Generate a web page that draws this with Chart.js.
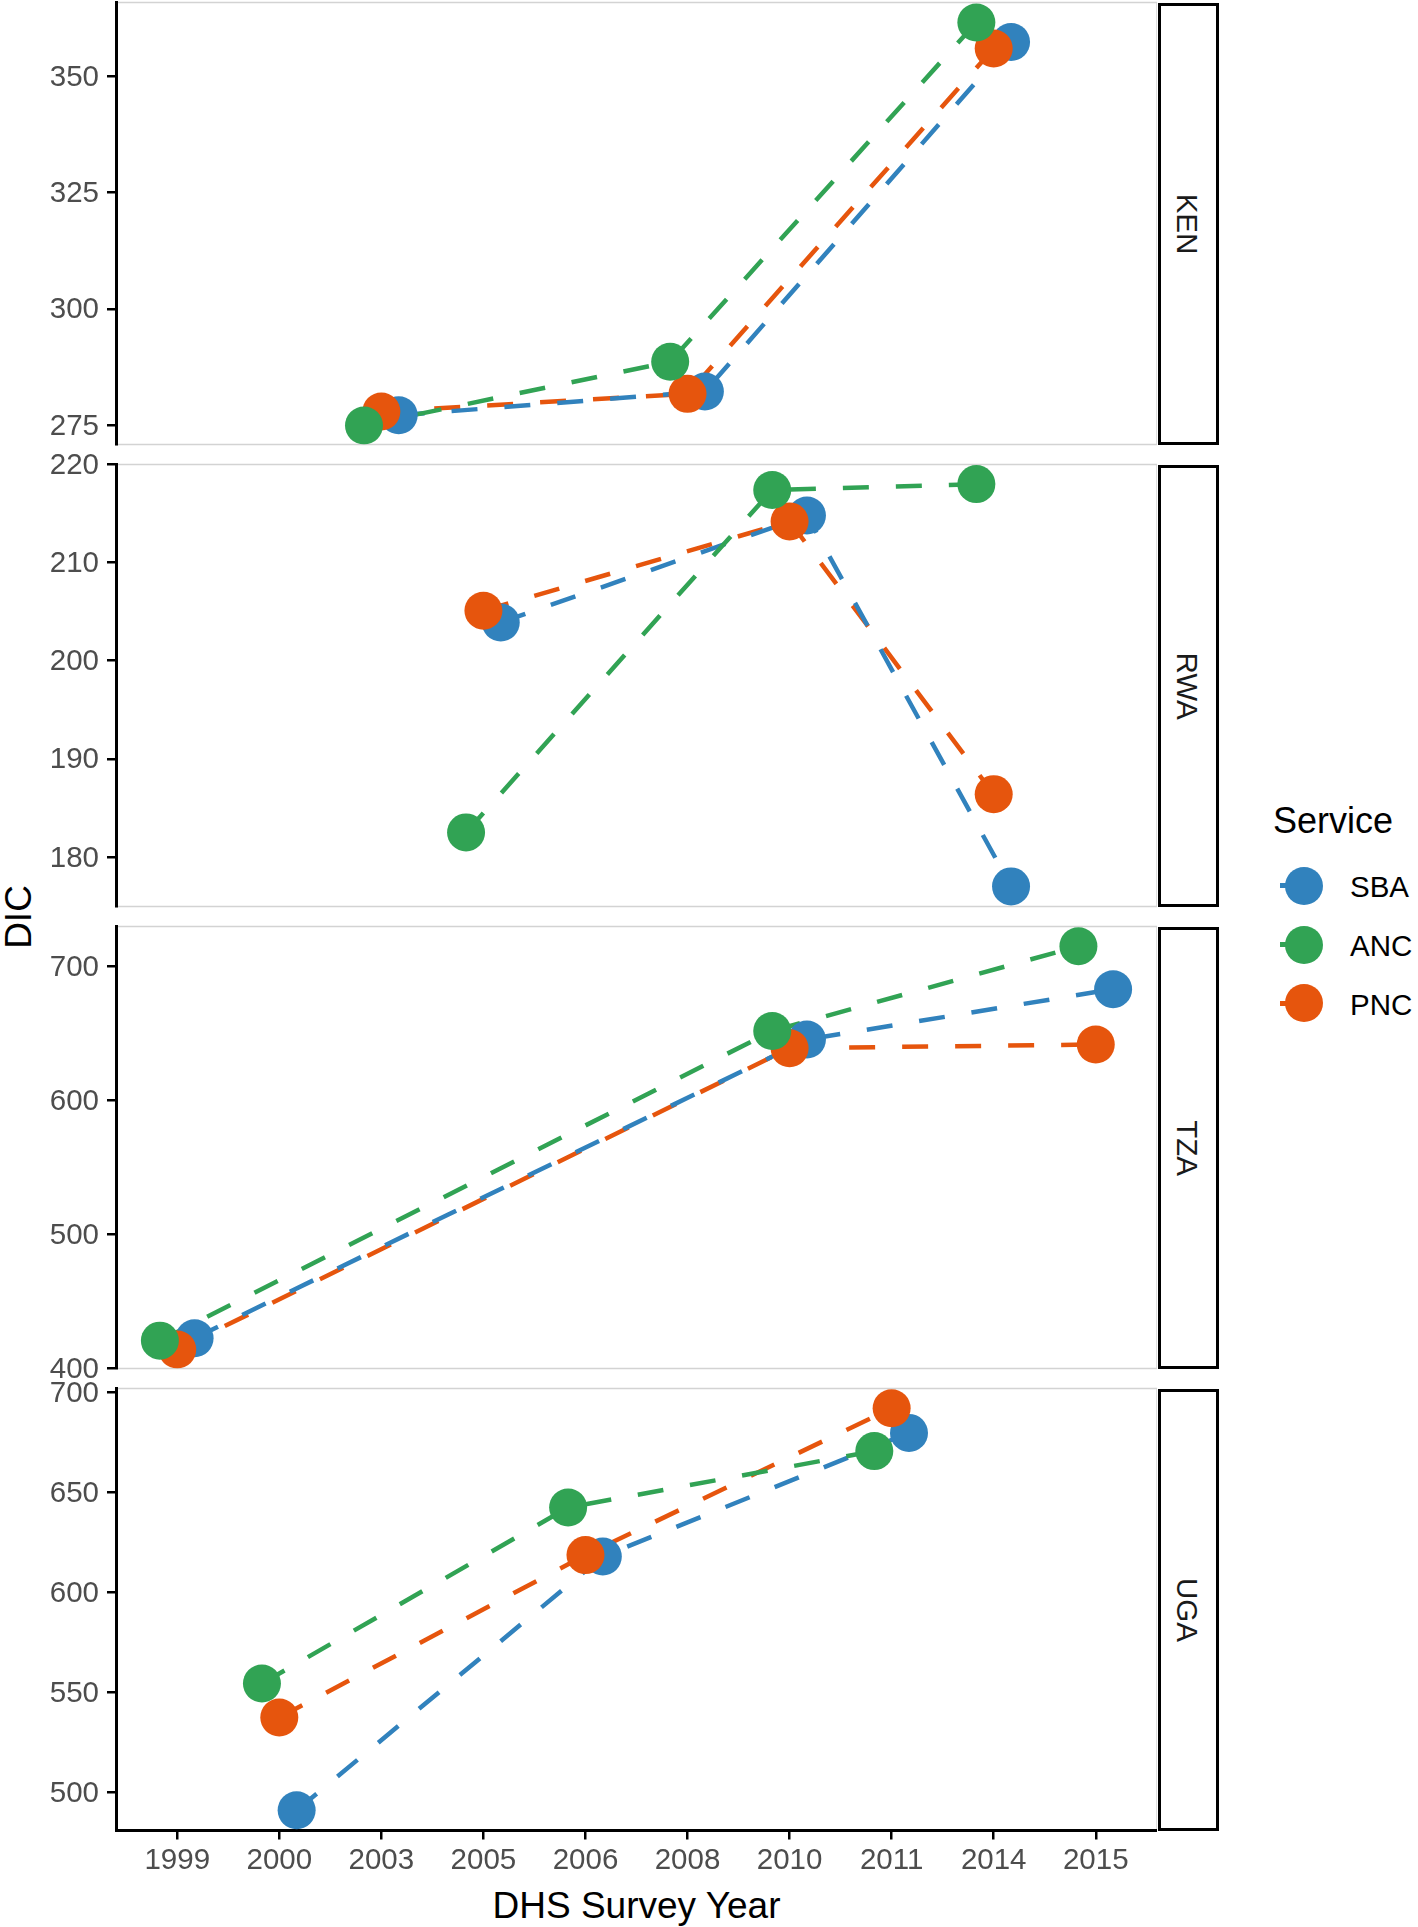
<!DOCTYPE html>
<html>
<head>
<meta charset="utf-8">
<script src="https://cdn.jsdelivr.net/npm/chart.js@4.4.1/dist/chart.umd.min.js"></script>
<style>
html,body{margin:0;padding:0;background:#fff;}
body{width:1418px;height:1927px;position:relative;overflow:hidden;font-family:'Liberation Sans',Arial,sans-serif;}
canvas{position:absolute;left:0;}
.strip{position:absolute;left:1158px;width:61px;box-sizing:border-box;border:3px solid #000;background:#fff;}
.strip span{position:absolute;left:50%;top:50%;transform:translate(-50%,-50%) translateX(-2px) rotate(90deg);font-size:29.5px;line-height:30px;color:#1a1a1a;white-space:nowrap;}
.txt{position:absolute;white-space:nowrap;color:#000;}
.ytitle{left:18px;top:916.5px;font-size:37px;line-height:37px;transform:translate(-50%,-50%) rotate(-90deg);}
.xtitle{left:636.5px;top:1887px;font-size:37px;line-height:37px;transform:translateX(-50%);}
.ltitle{left:1273px;top:803px;font-size:36px;line-height:36px;}
.lkey{position:absolute;width:38px;height:38px;border-radius:50%;}
.lstub{position:absolute;height:4.5px;}
.llab{position:absolute;font-size:29.5px;line-height:30px;color:#000;white-space:nowrap;}
</style>
</head>
<body>
<div class="txt ytitle">DIC</div>
<div class="txt xtitle">DHS Survey Year</div>
<div class="txt ltitle">Service</div>
<script>
// ---- data ----
const years = ['1999','2000','2003','2005','2006','2008','2010','2011','2014','2015'];
const services = ['SBA','ANC','PNC'];
const countries = ['KEN','RWA','TZA','UGA'];

const kenYears = ['2003','2008','2014'];
const kenSBA = [277.1, 282.2, 357.4];
const kenANC = [274.9, 288.6, 361.6];
const kenPNC = [277.9, 281.7, 356.0];
const kenTicks = [275, 300, 325, 350];
const kenLimits = [270.8, 365.9];

const rwaYears = ['2005','2010','2014'];
const rwaSBA = [203.9, 214.8, 177.0];
const rwaANC = [182.5, 217.4, 218.0];
const rwaPNC = [205.1, 214.2, 186.4];
const rwaTicks = [180, 190, 200, 210, 220];
const rwaLimits = [174.95, 220.0];

const tzaYears = ['1999','2010','2015'];
const tzaSBA = [422.6, 645.6, 683.2];
const tzaANC = [420.8, 652.0, 715.3];
const tzaPNC = [414.2, 639.1, 641.9];
const tzaTicks = [400, 500, 600, 700];
const tzaLimits = [400.0, 730.0];

const ugaYears = ['2000','2006','2011'];
const ugaSBA = [490.9, 617.8, 679.6];
const ugaANC = [554.3, 642.3, 670.5];
const ugaPNC = [537.3, 618.5, 691.9];
const ugaTicks = [500, 550, 600, 650, 700];
const ugaLimits = [480.8, 701.8];

// ---- styling / layout ----
const colors = {SBA:'#3182bd', ANC:'#31a354', PNC:'#e6550d'};
const dodge = {SBA:0.17, ANC:-0.17, PNC:0};
const panelTops = [2.5, 464.5, 926.5, 1388.5];
const PH = 442;
const XAXIS_H = 60;
const FONT = "'Liberation Sans', Arial, sans-serif";

Chart.defaults.font.family = FONT;

const panels = [
  {years:kenYears, SBA:kenSBA, ANC:kenANC, PNC:kenPNC, ticks:kenTicks, lim:kenLimits},
  {years:rwaYears, SBA:rwaSBA, ANC:rwaANC, PNC:rwaPNC, ticks:rwaTicks, lim:rwaLimits},
  {years:tzaYears, SBA:tzaSBA, ANC:tzaANC, PNC:tzaPNC, ticks:tzaTicks, lim:tzaLimits},
  {years:ugaYears, SBA:ugaSBA, ANC:ugaANC, PNC:ugaPNC, ticks:ugaTicks, lim:ugaLimits}
];

const borderPlugin = {
  id:'panelBorder',
  beforeDraw(chart){
    const a = chart.chartArea, ctx = chart.ctx;
    ctx.save();
    ctx.strokeStyle = '#d3d3d3';
    ctx.lineWidth = 1.5;
    ctx.strokeRect(a.left, a.top, a.right - a.left, a.bottom - a.top);
    ctx.restore();
  }
};

panels.forEach((p, i) => {
  const top = panelTops[i];
  const last = i === panels.length - 1;
  const canvasTop = Math.floor(top) - 30;
  const padTop = top - canvasTop;
  const height = Math.ceil(padTop + PH + (last ? XAXIS_H : 30));
  const padBottom = height - padTop - PH - (last ? XAXIS_H : 0);
  const c = document.createElement('canvas');
  c.width = 1157; c.height = height;
  c.style.top = canvasTop + 'px';
  c.style.width = '1157px'; c.style.height = height + 'px';
  document.body.appendChild(c);

  // strip
  const st = document.createElement('div');
  st.className = 'strip';
  st.style.top = top + 'px';
  st.style.height = PH + 'px';
  const sp = document.createElement('span');
  sp.textContent = countries[i];
  st.appendChild(sp);
  document.body.appendChild(st);

  const pts = s => p.years.map((y, k) => ({x: years.indexOf(y) + dodge[s], y: p[s][k]}));
  const ptDs = s => ({label:s, data:pts(s), showLine:false, pointRadius:19, pointHoverRadius:19,
    pointBackgroundColor:colors[s], pointBorderWidth:0, borderWidth:0, backgroundColor:colors[s], clip:0});
  const lnDs = s => ({label:s, data:pts(s), showLine:true, borderColor:colors[s], borderWidth:4.5,
    borderDash:[26,27], borderCapStyle:'butt', pointRadius:0, pointHoverRadius:0, fill:false, tension:0, clip:0});

  const axisGrid = {drawOnChartArea:false, drawTicks:true, tickLength:9, lineWidth:2.5, color:'#000', tickColor:'#000'};
  const axisBorder = {display:true, color:'#000', width:3};

  new Chart(c, {
    type:'scatter',
    data:{datasets:[ptDs('ANC'), ptDs('PNC'), ptDs('SBA'), lnDs('ANC'), lnDs('SBA'), lnDs('PNC')]},
    options:{
      responsive:false, animation:false, events:[], devicePixelRatio:1,
      layout:{autoPadding:false, padding:{top:padTop, bottom:padBottom, left:0, right:0}},
      plugins:{legend:{display:false}, tooltip:{enabled:false}},
      scales:{
        x:{type:'linear', min:-0.6, max:9.6, bounds:'data', display:last,
          afterBuildTicks: s => { s.ticks = years.map((_, k) => ({value:k})); },
          afterFit: s => { if (last) { s.height = XAXIS_H; s.paddingLeft = 0; s.paddingRight = 0; s.paddingTop = 0; s.paddingBottom = 0; } },
          ticks:{callback: v => years[v], color:'#4d4d4d', font:{size:29.5}, padding:4, maxRotation:0, minRotation:0, autoSkip:false},
          grid:axisGrid, border:axisBorder
        },
        y:{type:'linear', min:p.lim[0], max:p.lim[1], bounds:'data',
          afterBuildTicks: s => { s.ticks = p.ticks.map(v => ({value:v})); },
          afterFit: s => { s.width = 116; s.paddingTop = 0; s.paddingBottom = 0; s.paddingLeft = 0; s.paddingRight = 0; },
          ticks:{color:'#4d4d4d', font:{size:29.5}, padding:8, labelOffset:1.5, autoSkip:false},
          grid:axisGrid, border:axisBorder
        }
      }
    },
    plugins:[borderPlugin]
  });
});

// legend
const legendY = [885.7, 944.5, 1003.3];
services.forEach((s, k) => {
  const cy = legendY[k];
  const stub = document.createElement('div');
  stub.className = 'lstub';
  stub.style.left = '1280px'; stub.style.width = '16px';
  stub.style.top = (cy - 2.25) + 'px';
  stub.style.background = colors[s];
  document.body.appendChild(stub);
  const key = document.createElement('div');
  key.className = 'lkey';
  key.style.left = (1303.7 - 19) + 'px';
  key.style.top = (cy - 19) + 'px';
  key.style.background = colors[s];
  document.body.appendChild(key);
  const lab = document.createElement('div');
  lab.className = 'llab';
  lab.style.left = '1350px';
  lab.style.top = (cy - 13.5) + 'px';
  lab.textContent = s;
  document.body.appendChild(lab);
});
</script>
</body>
</html>
